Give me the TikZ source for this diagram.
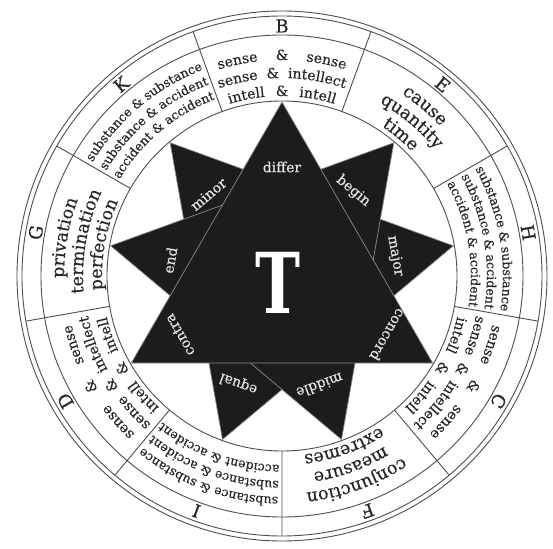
\documentclass[tikz,border=0pt]{standalone}
\usepackage{fontspec}
\setmainfont{DejaVu Serif}
\newfontfamily\ringfam{DejaVu Serif}[FakeBold=0.35]
\usetikzlibrary{decorations.text}

\definecolor{ink}{HTML}{2A2626}
\definecolor{rule}{HTML}{544C4C}
\definecolor{starfill}{HTML}{1D1B1B}
\definecolor{starline}{HTML}{8C8C8C}
\definecolor{starink}{HTML}{E4E4E4}

\newcommand\pairfont{\ringfam\fontsize{14}{14}\selectfont}
\newcommand\substfont{\ringfam\fontsize{12.5}{12.5}\selectfont}
\newcommand\wordfont{\ringfam\fontsize{17.5}{17.5}\selectfont}

% #1 angle, #2 radius, #3 half span, #4 align, #5 font, #6 text
\newcommand\ringline[6]{%
  \path[decorate,decoration={text along path,text align={#4},text={|\color{ink}#5|#6}}]
    (#1+#3:#2pt) arc[start angle=#1+#3,end angle=#1-#3,radius=#2pt];}

\newcommand\ringletter[2]{%
  \node[letter,rotate=#1-90] (#2) at (#1:243.5pt) {#2};}

\newcommand\pairsector[2]{%
  \ringletter{#1}{#2}
  \ringline{#1}{216}{17}{fit to path stretching spaces}{\pairfont}{sense {\&} sense}
  \ringline{#1}{198}{18.5}{fit to path stretching spaces}{\pairfont}{sense {\&} intellect}
  \ringline{#1}{180}{17}{fit to path stretching spaces}{\pairfont}{intell {\&} intell}}

\newcommand\substsector[2]{%
  \ringletter{#1}{#2}
  \ringline{#1}{221}{35}{center}{\substfont}{substance {\&} substance}
  \ringline{#1}{205}{35}{center}{\substfont}{substance {\&} accident}
  \ringline{#1}{189}{35}{center}{\substfont}{accident {\&} accident}}

\newcommand\wordsector[5]{%
  \ringletter{#1}{#2}
  \ringline{#1}{218}{35}{center}{\wordfont}{#3}
  \ringline{#1}{199}{35}{center}{\wordfont}{#4}
  \ringline{#1}{180}{35}{center}{\wordfont}{#5}}

\begin{document}
\begin{tikzpicture}[
  letter/.style={text=ink,font=\ringfam\fontsize{18}{18}\selectfont,anchor=base,inner sep=0pt},
  ring/.style={draw=rule,line width=0.9pt},
  point/.style={fill=starfill,draw=starline,line width=0.7pt},
  tag/.style={text=starink,font=\ringfam\fontsize{14}{14}\selectfont,inner sep=0pt}]

\useasboundingbox (-282pt,-272pt) rectangle (271pt,276pt);
\fill[white] (-282pt,-272pt) rectangle (271pt,276pt);

\draw[ring] (0,0) circle[radius=265pt];
\draw[ring] (0,0) circle[radius=260pt];
\draw[ring] (0,0) circle[radius=241pt];
\draw[ring] (0,0) circle[radius=175pt];

\draw[ring] (70:175pt) -- (70:260pt) (30:175pt) -- (30:260pt)
  (-10:175pt) -- (-10:260pt) (-50:175pt) -- (-50:260pt)
  (-90:175pt) -- (-90:260pt) (-130:175pt) -- (-130:260pt)
  (-170:175pt) -- (-170:260pt) (150:175pt) -- (150:260pt)
  (110:175pt) -- (110:260pt);

\pairsector{90}{B}
\wordsector{50}{E}{cause}{quantity}{time}
\substsector{10}{H}
\pairsector{-30}{C}
\wordsector{-70}{F}{conjunction}{measure}{extremes}
\substsector{-110}{I}
\pairsector{-150}{D}
\wordsector{170}{G}{privation}{termination}{perfection}
\substsector{130}{K}

% the three triangles, front one last
\filldraw[point] (10:174pt) -- (130:174pt) -- (250:174pt) -- cycle;
\filldraw[point] (50:174pt) -- (170:174pt) -- (290:174pt) -- cycle;
\filldraw[point] (90:174pt) -- (210:174pt) -- (330:174pt) -- cycle;

\node[tag] (differ) at (90:109pt) {differ};
\node[tag,rotate=-120] (concord) at (-29:121pt) {concord};
\node[tag,rotate=120] (contra) at (210:118pt) {contra};
\node[tag,rotate=-40] (begin) at (50:111pt) {begin};
\node[tag,rotate=-160] (middle) at (-71:116pt) {middle};
\node[tag,rotate=80] (end) at (172:113pt) {end};
\node[tag,rotate=-80] (major) at (10:115pt) {major};
\node[tag,rotate=160] (equal) at (-112:116pt) {equal};
\node[tag,rotate=40] (minor) at (132:110pt) {minor};

\node[text=white,font=\bfseries\fontsize{84}{84}\selectfont,inner sep=0pt] (T) at (-4pt,-6.5pt) {\scalebox{0.72}[1]{T}};
\end{tikzpicture}
\end{document}
